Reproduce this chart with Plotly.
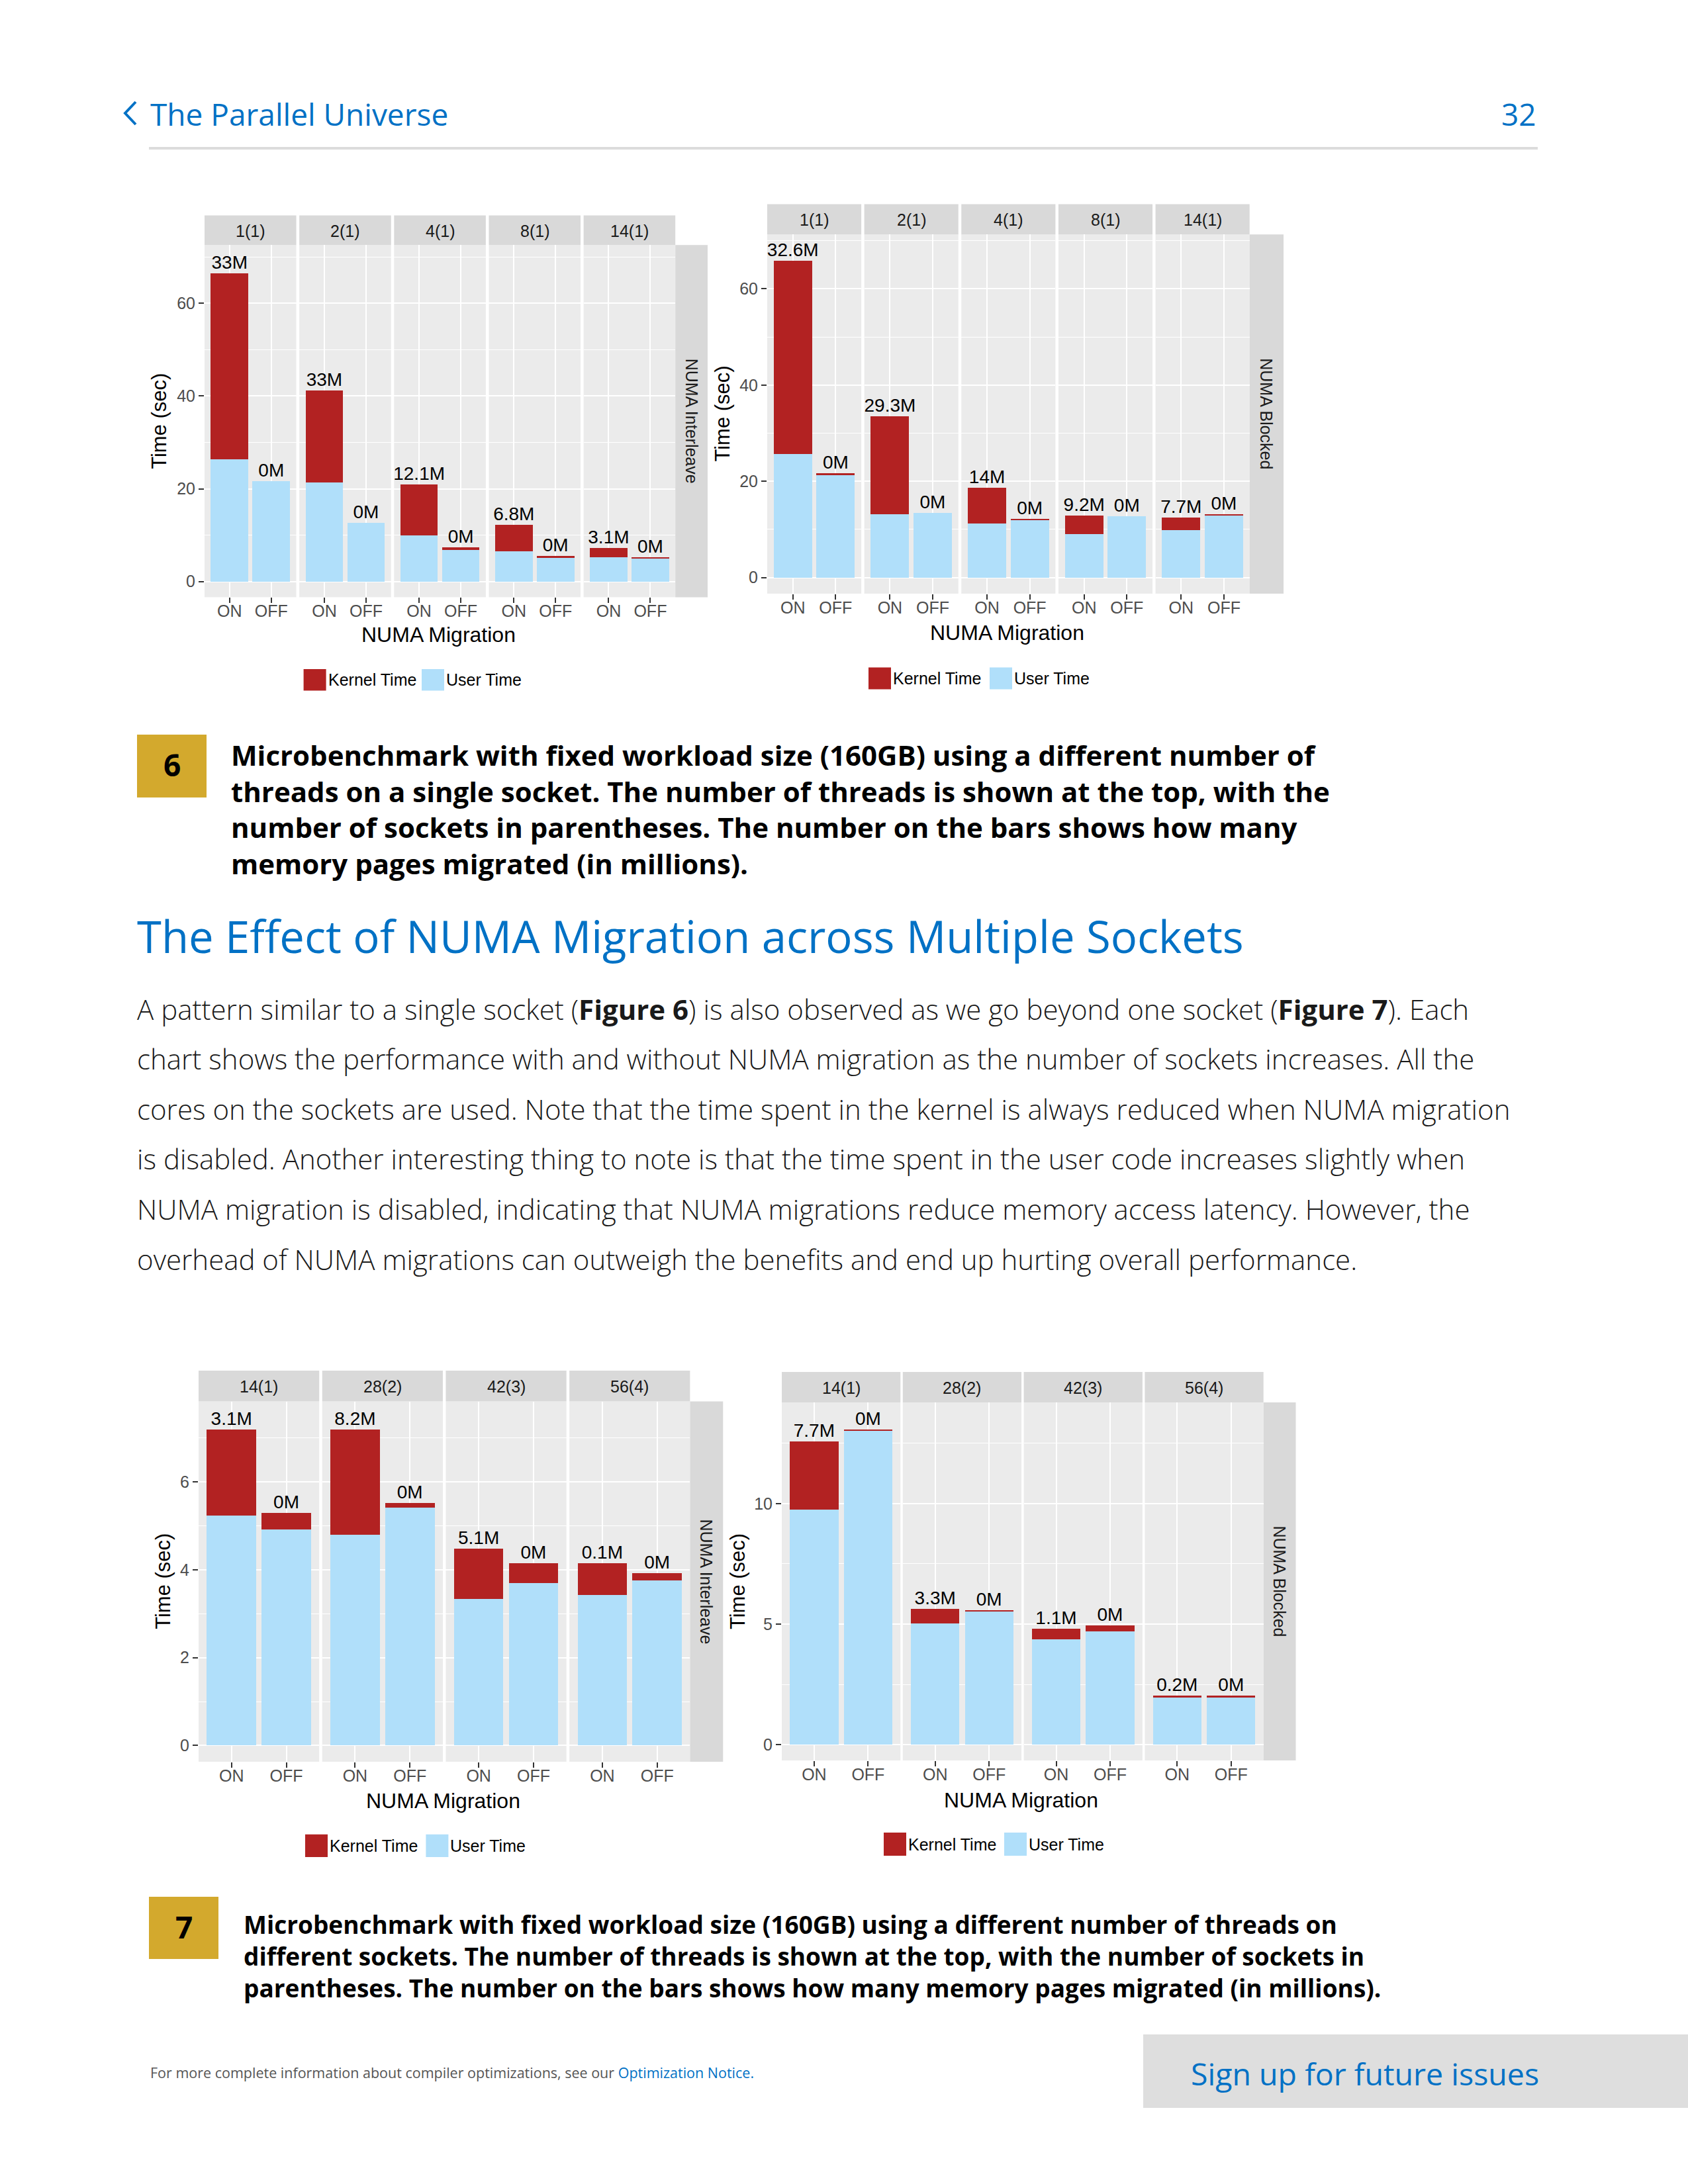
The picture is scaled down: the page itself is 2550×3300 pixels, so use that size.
import plotly.graph_objects as go

W, H = 2550, 3300
ARIAL = "Liberation Sans, Arial, sans-serif"
PAGE_FONT = "Open Sans, Noto Sans, sans-serif"
BLUE = "#0071C5"
KERNEL_COLOR = "#B22222"
USER_COLOR = "#B0DFFA"
PANEL_BG = "#EBEBEB"
STRIP_BG = "#D9D9D9"
GOLD = "#D3A92D"

# ---------------- data ----------------
migration = ["ON", "OFF"]
fig6_facets = ["1(1)", "2(1)", "4(1)", "8(1)", "14(1)"]
fig7_facets = ["14(1)", "28(2)", "42(3)", "56(4)"]

interleave6_user = [[26.4, 21.6], [21.3, 12.6], [9.9, 6.8], [6.5, 5.1], [5.2, 4.9]]
interleave6_kernel = [[40.0, 0.0], [19.9, 0.0], [11.0, 0.6], [5.7, 0.4], [2.0, 0.4]]
interleave6_pages = [["33M", "0M"], ["33M", "0M"], ["12.1M", "0M"], ["6.8M", "0M"], ["3.1M", "0M"]]

blocked6_user = [[25.7, 21.3], [13.2, 13.4], [11.2, 12.0], [9.0, 12.7], [9.8, 12.9]]
blocked6_kernel = [[40.1, 0.4], [20.3, 0.0], [7.4, 0.2], [3.9, 0.0], [2.7, 0.25]]
blocked6_pages = [["32.6M", "0M"], ["29.3M", "0M"], ["14M", "0M"], ["9.2M", "0M"], ["7.7M", "0M"]]

interleave7_user = [[5.24, 4.92], [4.79, 5.42], [3.33, 3.70], [3.43, 3.75]]
interleave7_kernel = [[1.95, 0.38], [2.40, 0.10], [1.15, 0.45], [0.72, 0.17]]
interleave7_pages = [["3.1M", "0M"], ["8.2M", "0M"], ["5.1M", "0M"], ["0.1M", "0M"]]

blocked7_user = [[9.76, 13.0], [5.04, 5.54], [4.36, 4.69], [1.95, 1.95]]
blocked7_kernel = [[2.81, 0.07], [0.58, 0.04], [0.45, 0.26], [0.08, 0.08]]
blocked7_pages = [["7.7M", "0M"], ["3.3M", "0M"], ["1.1M", "0M"], ["0.2M", "0M"]]

legend_labels = ["Kernel Time", "User Time"]

caption6_lines = [
    "Microbenchmark with fixed workload size (160GB) using a different number of",
    "threads on a single socket. The number of threads is shown at the top, with the",
    "number of sockets in parentheses. The number on the bars shows how many",
    "memory pages migrated (in millions).",
]
caption7_lines = [
    "Microbenchmark with fixed workload size (160GB) using a different number of threads on",
    "different sockets. The number of threads is shown at the top, with the number of sockets in",
    "parentheses. The number on the bars shows how many memory pages migrated (in millions).",
]
body_lines = [
    "A pattern similar to a single socket (<b>Figure 6</b>) is also observed as we go beyond one socket (<b>Figure 7</b>). Each",
    "chart shows the performance with and without NUMA migration as the number of sockets increases. All the",
    "cores on the sockets are used. Note that the time spent in the kernel is always reduced when NUMA migration",
    "is disabled. Another interesting thing to note is that the time spent in the user code increases slightly when",
    "NUMA migration is disabled, indicating that NUMA migrations reduce memory access latency. However, the",
    "overhead of NUMA migrations can outweigh the benefits and end up hurting overall performance.",
]

# ---------------- layout (pixel geometry) ----------------
GEOM = [
    dict(left=309, right=1020.2, gap=4.6, strip_top=325.6, top=370.2, bottom=902.4, side=1069,
         yrange=[-3.38, 72.57], dtick=20, minor=10, ytitle_x=240.5, xtitle_y=959,
         key_y=(1011, 1043.6), key_x=(458.6, 637)),
    dict(left=1159, right=1887.7, gap=4.5, strip_top=308.6, top=354.2, bottom=897, side=1939,
         yrange=[-3.34, 71.3], dtick=20, minor=10, ytitle_x=1092, xtitle_y=956,
         key_y=(1008.6, 1041.6), key_x=(1312, 1495)),
    dict(left=300, right=1042.4, gap=4.5, strip_top=2071, top=2117.6, bottom=2662, side=1092.3,
         yrange=[-0.37, 7.83], dtick=2, minor=1, ytitle_x=247, xtitle_y=2721,
         key_y=(2771.7, 2806), key_x=(461, 643.4)),
    dict(left=1181, right=1908.7, gap=3.5, strip_top=2073, top=2119, bottom=2660, side=1957.5,
         yrange=[-0.65, 14.19], dtick=5, minor=2.5, ytitle_x=1114.6, xtitle_y=2720,
         key_y=(2769, 2804), key_x=(1335, 1517)),
]

charts = [
    (fig6_facets, interleave6_user, interleave6_kernel, interleave6_pages, "NUMA Interleave", GEOM[0]),
    (fig6_facets, blocked6_user, blocked6_kernel, blocked6_pages, "NUMA Blocked", GEOM[1]),
    (fig7_facets, interleave7_user, interleave7_kernel, interleave7_pages, "NUMA Interleave", GEOM[2]),
    (fig7_facets, blocked7_user, blocked7_kernel, blocked7_pages, "NUMA Blocked", GEOM[3]),
]


def px(x):
    return x / W


def py(y):
    return 1 - y / H


fig = go.Figure()
axes = {}
shapes = []
annotations = []


def add_text(text, x, y, size, color="#000000", family=ARIAL, xanchor="center", yanchor="middle",
             angle=0, weight=None, align="center"):
    f = dict(family=family, size=size, color=color)
    if weight is not None:
        f["weight"] = weight
    annotations.append(dict(text=text, x=px(x), y=py(y), xref="paper", yref="paper", showarrow=False,
                            xanchor=xanchor, yanchor=yanchor, textangle=angle, font=f, align=align))


def add_rect(x0, y0, x1, y1, color):
    shapes.append(dict(type="rect", xref="paper", yref="paper", x0=px(x0), x1=px(x1), y0=py(y1), y1=py(y0),
                       fillcolor=color, line=dict(width=0, color=color), layer="below"))


ax_i = 0
for facets, user, kernel, pages, side_label, G in charts:
    n = len(facets)
    pw = (G["right"] - G["left"] - (n - 1) * G["gap"]) / n
    for p, facet in enumerate(facets):
        ax_i += 1
        s = "" if ax_i == 1 else str(ax_i)
        x0 = G["left"] + p * (pw + G["gap"])
        x1 = x0 + pw
        totals = [u + k for u, k in zip(user[p], kernel[p])]
        fig.add_trace(go.Bar(x=migration, y=user[p], name=legend_labels[1], width=0.9,
                             marker=dict(color=USER_COLOR, line=dict(width=0)),
                             xaxis="x" + s, yaxis="y" + s, showlegend=False, hoverinfo="skip"))
        fig.add_trace(go.Bar(x=migration, y=kernel[p], name=legend_labels[0], width=0.9,
                             marker=dict(color=KERNEL_COLOR, line=dict(width=0)),
                             xaxis="x" + s, yaxis="y" + s, showlegend=False, hoverinfo="skip"))
        fig.add_trace(go.Scatter(x=migration, y=totals, mode="text", text=pages[p], textposition="top center",
                                 textfont=dict(family=ARIAL, size=28, color="#000000"),
                                 xaxis="x" + s, yaxis="y" + s, showlegend=False, hoverinfo="skip",
                                 cliponaxis=False))
        axes["xaxis" + s] = dict(
            domain=[px(x0), px(x1)], anchor="y" + s, type="category", range=[-0.6, 1.6],
            showgrid=True, gridcolor="white", gridwidth=2.2, zeroline=False, showline=False,
            ticks="outside", ticklen=8, tickwidth=2, tickcolor="#333333", ticklabelstandoff=-9,
            tickfont=dict(family=ARIAL, size=25, color="#4D4D4D"), fixedrange=True,
        )
        axes["yaxis" + s] = dict(
            domain=[py(G["bottom"]), py(G["top"])], anchor="x" + s, range=G["yrange"],
            tick0=0, dtick=G["dtick"], showgrid=True, gridcolor="white", gridwidth=2.2,
            minor=dict(dtick=G["minor"], showgrid=True, gridcolor="white", gridwidth=1.1),
            zeroline=False, showline=False, showticklabels=(p == 0),
            ticks="outside" if p == 0 else "", ticklen=8, tickwidth=2, tickcolor="#333333",
            tickfont=dict(family=ARIAL, size=25, color="#4D4D4D"), ticklabelstandoff=0, fixedrange=True,
        )
        # facet strip
        add_rect(x0, G["strip_top"], x1, G["top"], STRIP_BG)
        add_text(facet, (x0 + x1) / 2, (G["strip_top"] + G["top"]) / 2 + 1, 25, "#1A1A1A")
    # right strip
    add_rect(G["right"], G["top"], G["side"], G["bottom"], STRIP_BG)
    add_text(side_label, (G["right"] + G["side"]) / 2, (G["top"] + G["bottom"]) / 2, 25, "#1A1A1A", angle=90)
    # axis titles
    add_text("Time (sec)", G["ytitle_x"], (G["top"] + G["bottom"]) / 2, 31, angle=-90)
    add_text("NUMA Migration", (G["left"] + G["right"]) / 2 - 2, G["xtitle_y"], 32)
    # legend
    ky0, ky1 = G["key_y"]
    for kx, col, lab in [(G["key_x"][0], KERNEL_COLOR, legend_labels[0]), (G["key_x"][1], USER_COLOR, legend_labels[1])]:
        add_rect(kx, ky0, kx + 34, ky1, col)
        add_text(lab, kx + 35, (ky0 + ky1) / 2, 25, xanchor="left")

# ---------------- page furniture ----------------
shapes.append(dict(type="path", xref="paper", yref="paper",
                   path=f"M {px(205)},{py(154)} L {px(189)},{py(171)} L {px(205)},{py(188)}",
                   line=dict(color=BLUE, width=4)))
add_text("The Parallel Universe", 225, 172, 46, BLUE, PAGE_FONT, xanchor="left")
add_text("32", 2323, 172, 46, BLUE, PAGE_FONT, xanchor="right")
shapes.append(dict(type="line", xref="paper", yref="paper", x0=px(225), x1=px(2323), y0=py(224), y1=py(224),
                   line=dict(color="#DCDCDC", width=4)))

# figure 6 caption
add_rect(207, 1110, 312, 1205, GOLD)
add_text("<b>6</b>", 260, 1155, 46, "#000000", PAGE_FONT)
add_text("<b>" + "<br>".join(caption6_lines) + "</b>", 347, 1222, 42, "#000000", PAGE_FONT,
         xanchor="left", align="left")

# heading
add_text("The Effect of NUMA Migration across Multiple Sockets", 205, 1414, 67, BLUE, PAGE_FONT, xanchor="left")

# body
for i, line in enumerate(body_lines):
    add_text(line, 205, 1524 + i * 75.6, 42, "#1A1A1A", PAGE_FONT, xanchor="left", weight=300, align="left")

# figure 7 caption
add_rect(225, 2866, 330, 2960, GOLD)
add_text("<b>7</b>", 278, 2911, 46, "#000000", PAGE_FONT)
add_text("<b>" + "<br>".join(caption7_lines) + "</b>", 366, 2955, 37, "#000000", PAGE_FONT,
         xanchor="left", align="left")

# footer
add_text("For more complete information about compiler optimizations, see our "
         "<span style='color:#0071C5'>Optimization Notice.</span>",
         225, 3131, 21.5, "#555555", PAGE_FONT, xanchor="left")
add_rect(1727, 3074, 2550, 3185, "#DEDEDE")
add_text("Sign up for future issues", 1797, 3133, 46.5, BLUE, PAGE_FONT, xanchor="left")

fig.update_layout(
    width=W, height=H, margin=dict(l=0, r=0, t=0, b=0),
    paper_bgcolor="white", plot_bgcolor=PANEL_BG,
    barmode="stack", showlegend=False, hovermode=False,
    shapes=shapes, annotations=annotations, **axes,
)

fig.write_html("out.html", config={"displayModeBar": False},
               post_script="document.body.style.margin='0';document.body.style.padding='0';")
